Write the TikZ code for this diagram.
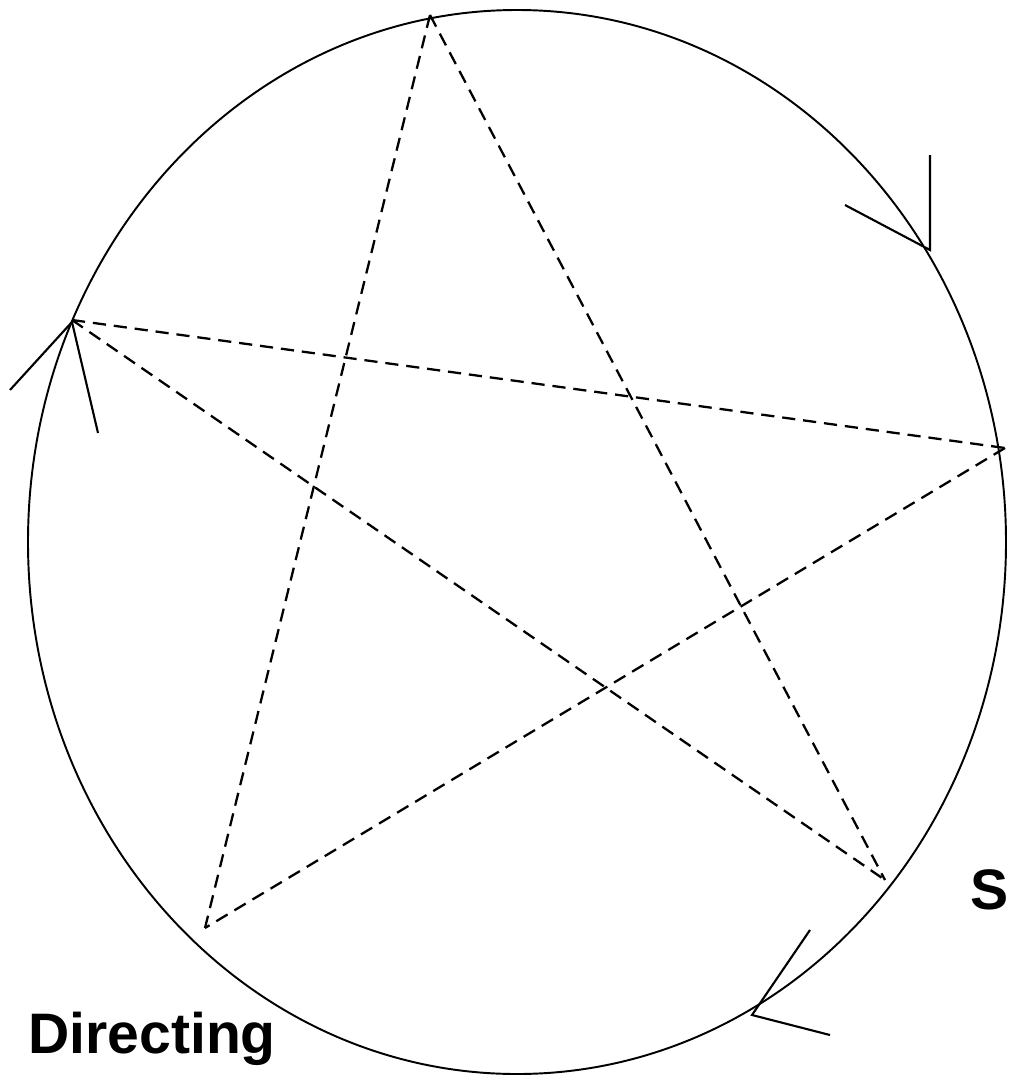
\documentclass[tikz,border=0pt]{standalone}
\usepackage{fontspec}
\setmainfont{Liberation Sans}
\usepackage{tikz}
\usepackage{xcolor}

\begin{document}
\begin{tikzpicture}[x=0.02cm,y=-0.02cm,
  every node/.style={font=\bfseries\fontsize{32.5}{38}\selectfont},
  rim/.style={line width=1.1pt},
  chord/.style={line width=1.3pt,dash pattern=on 7.5pt off 4.5pt},
  barb/.style={line width=1.2pt}]
\useasboundingbox (0,0) rectangle (1008,1079);
\draw[rim] (517,542) ellipse [x radius=489, y radius=532];
% star points
\coordinate (top) at (430,15);
\coordinate (lft) at (72,320);
\coordinate (rgt) at (1005,448);
\coordinate (bl) at (205,928);
\coordinate (br) at (885,880);
\draw[chord] (top) -- (bl);
\draw[chord] (top) -- (br);
\draw[chord] (lft) -- (rgt);
\draw[chord] (lft) -- (br);
\draw[chord] (rgt) -- (bl);
% arrow heads on the rim
\coordinate (tipA) at (930,250);
\draw[barb] (930,155) -- (tipA) -- (845,205);
\coordinate (tipB) at (72,322);
\draw[barb] (10,390) -- (tipB) -- (98,433);
\coordinate (tipC) at (752,1015);
\draw[barb] (810,930) -- (tipC) -- (830,1035);
\node[anchor=west,inner sep=0pt] (dir) at (28,1039) {Directing};
\node[anchor=west,inner sep=0pt] (s) at (970,890) {S};
\end{tikzpicture}
\end{document}
